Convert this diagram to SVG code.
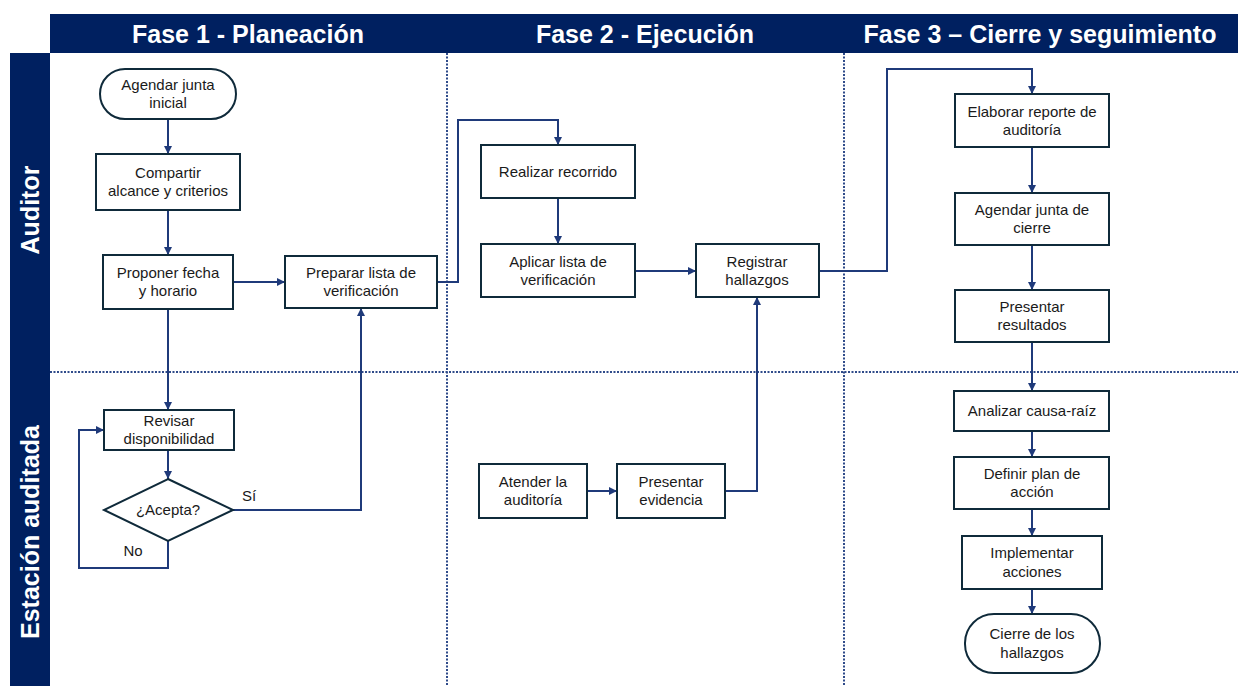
<svg xmlns="http://www.w3.org/2000/svg" width="1238" height="686" viewBox="0 0 1238 686">
<style>
.hdr{fill:#002060}
.ht{font-family:"Liberation Sans",Arial,sans-serif;font-weight:bold;font-size:25px;fill:#fff;text-anchor:middle}
.div{stroke:#2f4b8a;stroke-width:2;stroke-dasharray:2 1.5;fill:none}
.box{fill:#fff;stroke:#0f2a3a;stroke-width:2}
.t{font-family:"Liberation Sans",Arial,sans-serif;font-size:15px;fill:#1a1a1a;text-anchor:middle}
.c{fill:none;stroke:#1f3a7a;stroke-width:2}
</style>
<defs>
<marker id="ah" markerWidth="10" markerHeight="10" refX="9" refY="5" orient="auto" markerUnits="userSpaceOnUse">
<path d="M1,1 L9,5 L1,9 Z" fill="#1f3a7a"/>
</marker>
</defs>
<rect width="1238" height="686" fill="#fff"/>
<g id="headers">
<rect class="hdr" x="50" y="14" width="1188" height="39"/>
<text class="ht" x="248" y="43">Fase 1 - Planeación</text>
<text class="ht" x="645" y="43">Fase 2 - Ejecución</text>
<text class="ht" x="1040" y="43">Fase 3 – Cierre y seguimiento</text>
</g>
<g id="lanes">
<rect class="hdr" x="10" y="53" width="40" height="633"/>
<text class="ht" transform="translate(39,210) rotate(-90)">Auditor</text>
<text class="ht" transform="translate(39,532) rotate(-90)">Estación auditada</text>
<line class="div" x1="50" y1="372" x2="1238" y2="372"/>
<line class="div" x1="447" y1="53" x2="447" y2="686"/>
<line class="div" x1="844" y1="53" x2="844" y2="686"/>
</g>
<g id="connectors">
<path class="c" d="M168,119 V154" marker-end="url(#ah)"/>
<path class="c" d="M168,210 V255" marker-end="url(#ah)"/>
<path class="c" d="M233,282 H285" marker-end="url(#ah)"/>
<path class="c" d="M168,309 V410" marker-end="url(#ah)"/>
<path class="c" d="M168,450 V479" marker-end="url(#ah)"/>
<path class="c" d="M168,541 V568 H79 V430 H104" marker-end="url(#ah)"/>
<path class="c" d="M233,510 H361 V308" marker-end="url(#ah)"/>
<path class="c" d="M437,282 H458 V120 H558 V145" marker-end="url(#ah)"/>
<path class="c" d="M558,198 V244" marker-end="url(#ah)"/>
<path class="c" d="M635,271 H696" marker-end="url(#ah)"/>
<path class="c" d="M587,491 H617" marker-end="url(#ah)"/>
<path class="c" d="M725,491 H757 V297" marker-end="url(#ah)"/>
<path class="c" d="M819,271 H887 V69 H1032 V94" marker-end="url(#ah)"/>
<path class="c" d="M1032,147 V193" marker-end="url(#ah)"/>
<path class="c" d="M1032,245 V290" marker-end="url(#ah)"/>
<path class="c" d="M1032,342 V391" marker-end="url(#ah)"/>
<path class="c" d="M1032,431 V457" marker-end="url(#ah)"/>
<path class="c" d="M1032,509 V536" marker-end="url(#ah)"/>
<path class="c" d="M1032,589 V614" marker-end="url(#ah)"/>
<text class="t" x="249" y="501">Sí</text>
<text class="t" x="133" y="556">No</text>
</g>
<g id="n1"><rect class="box" x="100" y="69" width="136" height="50" rx="25"/><text class="t" x="168" y="90">Agendar junta</text><text class="t" x="168" y="108">inicial</text></g>
<g id="n2"><rect class="box" x="96" y="154" width="144" height="56"/><text class="t" x="168" y="178">Compartir</text><text class="t" x="168" y="196">alcance y criterios</text></g>
<g id="n3"><rect class="box" x="103" y="255" width="130" height="54"/><text class="t" x="168" y="278">Proponer fecha</text><text class="t" x="168" y="296">y horario</text></g>
<g id="n4"><rect class="box" x="285" y="256" width="152" height="52"/><text class="t" x="361" y="278">Preparar lista de</text><text class="t" x="361" y="296">verificación</text></g>
<g id="n5"><rect class="box" x="104" y="410" width="130" height="40"/><text class="t" x="169" y="426">Revisar</text><text class="t" x="169" y="444">disponibilidad</text></g>
<g id="n6"><polygon class="box" points="168,479 233,510 168,541 104,510"/><text class="t" x="168" y="515">¿Acepta?</text></g>
<g id="n7"><rect class="box" x="481" y="145" width="154" height="53"/><text class="t" x="558" y="177">Realizar recorrido</text></g>
<g id="n8"><rect class="box" x="481" y="244" width="154" height="53"/><text class="t" x="558" y="267">Aplicar lista de</text><text class="t" x="558" y="285">verificación</text></g>
<g id="n9"><rect class="box" x="696" y="244" width="123" height="53"/><text class="t" x="757" y="267">Registrar</text><text class="t" x="757" y="285">hallazgos</text></g>
<g id="n10"><rect class="box" x="479" y="464" width="108" height="54"/><text class="t" x="533" y="487">Atender la</text><text class="t" x="533" y="505">auditoría</text></g>
<g id="n11"><rect class="box" x="617" y="464" width="108" height="54"/><text class="t" x="671" y="487">Presentar</text><text class="t" x="671" y="505">evidencia</text></g>
<g id="n12"><rect class="box" x="955" y="94" width="154" height="53"/><text class="t" x="1032" y="117">Elaborar reporte de</text><text class="t" x="1032" y="135">auditoría</text></g>
<g id="n13"><rect class="box" x="955" y="193" width="154" height="52"/><text class="t" x="1032" y="215">Agendar junta de</text><text class="t" x="1032" y="233">cierre</text></g>
<g id="n14"><rect class="box" x="955" y="290" width="154" height="52"/><text class="t" x="1032" y="312">Presentar</text><text class="t" x="1032" y="330">resultados</text></g>
<g id="n15"><rect class="box" x="954" y="391" width="155" height="40"/><text class="t" x="1032" y="416">Analizar causa-raíz</text></g>
<g id="n16"><rect class="box" x="954" y="457" width="155" height="52"/><text class="t" x="1032" y="479">Definir plan de</text><text class="t" x="1032" y="497">acción</text></g>
<g id="n17"><rect class="box" x="962" y="536" width="140" height="53"/><text class="t" x="1032" y="558">Implementar</text><text class="t" x="1032" y="577">acciones</text></g>
<g id="n18"><rect class="box" x="965" y="614" width="135" height="59" rx="29"/><text class="t" x="1032" y="639">Cierre de los</text><text class="t" x="1032" y="658">hallazgos</text></g>
</svg>
